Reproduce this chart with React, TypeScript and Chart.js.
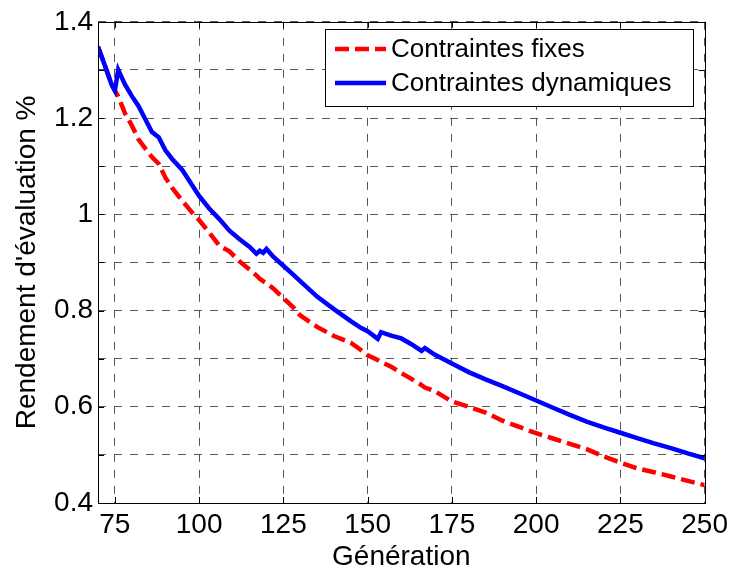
import React, { useEffect, useRef } from "react";
import { Chart, registerables } from "chart.js";

Chart.register(...registerables);

// Generation values (x axis)
const generations = [
  70, 72, 74, 75, 76, 78, 80, 82, 84, 86, 88, 90, 92, 95, 98, 100, 103, 106, 109, 112,
  115, 117, 118, 119, 120, 122, 125, 128, 130, 135, 140, 145, 148, 150, 153, 154, 157,
  160, 163, 166, 167, 170, 175, 180, 185, 190, 195, 200, 205, 210, 215, 220, 225, 230,
  235, 240, 245, 250,
];

const fixedValues = [
  1.348, 1.31, 1.27, 1.257, 1.245, 1.21, 1.185, 1.156, 1.137, 1.119, 1.105, 1.076, 1.055,
  1.028, 1.003, 0.988, 0.962, 0.935, 0.923, 0.902, 0.885, 0.873, 0.866, 0.861, 0.857,
  0.846, 0.826, 0.806, 0.79, 0.766, 0.747, 0.733, 0.718, 0.707, 0.697, 0.693, 0.683,
  0.67, 0.658, 0.645, 0.64, 0.632, 0.611, 0.6, 0.588, 0.571, 0.558, 0.545, 0.534, 0.523,
  0.512, 0.497, 0.484, 0.472, 0.464, 0.455, 0.446, 0.437,
];

const dynamicValues = [
  1.348, 1.31, 1.27, 1.257, 1.3, 1.27, 1.246, 1.225, 1.198, 1.171, 1.16, 1.133, 1.115,
  1.092, 1.06, 1.038, 1.012, 0.99, 0.966, 0.948, 0.932, 0.918, 0.924, 0.92, 0.928, 0.912,
  0.893, 0.874, 0.861, 0.829, 0.803, 0.778, 0.764, 0.757, 0.741, 0.755, 0.748, 0.742,
  0.73, 0.716, 0.722, 0.708, 0.69, 0.672, 0.657, 0.643, 0.628, 0.613, 0.598, 0.583,
  0.569, 0.557, 0.546, 0.535, 0.524, 0.514, 0.503, 0.493,
];

const xTickValues = [75, 100, 125, 150, 175, 200, 225, 250];
const yTickValues = [0.4, 0.5, 0.6, 0.7, 0.8, 0.9, 1.0, 1.1, 1.2, 1.3, 1.4];
const yTickLabels = ["0.4", "", "0.6", "", "0.8", "", "1", "", "1.2", "", "1.4"];

const seriesLabels = ["Contraintes fixes", "Contraintes dynamiques"];
const xTitle = "Génération";
const yTitle = "Rendement d'évaluation %";

const FONT = "'Liberation Sans', Arial, Helvetica, sans-serif";

const frameAndLegend = {
  id: "frameAndLegend",
  afterDraw(chart: any) {
    const { ctx, chartArea } = chart;
    const { left, right, top, bottom } = chartArea;
    const xs = chart.scales.x;
    const ys = chart.scales.y;
    ctx.save();
    ctx.strokeStyle = "#000";
    ctx.lineWidth = 1;
    ctx.setLineDash([]);
    // inner ticks
    const tl = 6;
    ctx.beginPath();
    xs.ticks.forEach((t: any) => {
      const px = Math.round(xs.getPixelForValue(t.value)) + 0.5;
      ctx.moveTo(px, bottom);
      ctx.lineTo(px, bottom - tl);
      ctx.moveTo(px, top);
      ctx.lineTo(px, top + tl);
    });
    ys.ticks.forEach((t: any) => {
      const py = Math.round(ys.getPixelForValue(t.value)) + 0.5;
      ctx.moveTo(left, py);
      ctx.lineTo(left + tl, py);
      ctx.moveTo(right, py);
      ctx.lineTo(right - tl, py);
    });
    ctx.stroke();
    // frame
    ctx.strokeRect(Math.round(left) + 0.5, Math.round(top) + 0.5, Math.round(right - left), Math.round(bottom - top));

    // legend
    const bx = 325.5, by = 29.5, bw = 368, bh = 77;
    ctx.fillStyle = "#fff";
    ctx.fillRect(bx, by, bw, bh);
    ctx.strokeRect(bx, by, bw, bh);
    const rows = [49, 83];
    chart.data.datasets.forEach((ds: any, i: number) => {
      const y = rows[i];
      ctx.save();
      ctx.strokeStyle = ds.borderColor;
      ctx.lineWidth = ds.borderWidth;
      ctx.setLineDash(ds.borderDash || []);
      ctx.beginPath();
      ctx.moveTo(335, y);
      ctx.lineTo(386, y);
      ctx.stroke();
      ctx.restore();
      ctx.fillStyle = "#000";
      ctx.font = `26px ${FONT}`;
      ctx.textAlign = "left";
      ctx.textBaseline = "middle";
      ctx.fillText(ds.label, 391, y + 1);
    });
    ctx.restore();
  },
};

export default function App() {
  const ref = useRef<HTMLCanvasElement | null>(null);
  useEffect(() => {
    if (!ref.current) return;
    const chart = new Chart(ref.current, {
      type: "line",
      data: {
        datasets: [
          {
            label: seriesLabels[0],
            data: generations.map((g, i) => ({ x: g, y: fixedValues[i] })),
            borderColor: "#ff0000",
            borderWidth: 4.5,
            borderDash: [14, 6],
            pointRadius: 0,
            tension: 0,
            fill: false,
            order: 2,
          },
          {
            label: seriesLabels[1],
            data: generations.map((g, i) => ({ x: g, y: dynamicValues[i] })),
            borderColor: "#0000ff",
            borderWidth: 4.5,
            pointRadius: 0,
            tension: 0,
            fill: false,
            order: 1,
          },
        ],
      },
      options: {
        animation: false,
        responsive: false,
        devicePixelRatio: 1,
        layout: { padding: { left: 0, top: 19, right: 28, bottom: 0 } },
        plugins: { legend: { display: false }, tooltip: { enabled: false } },
        scales: {
          x: {
            type: "linear",
            min: 70,
            max: 250,
            afterBuildTicks: (s: any) => {
              s.ticks = xTickValues.map((v) => ({ value: v }));
            },
            afterFit: (s: any) => {
              s.height = 71;
            },
            ticks: {
              autoSkip: false,
              maxRotation: 0,
              padding: 5,
              color: "#000",
              font: { family: FONT, size: 28 },
              callback: (v: any) => String(v),
            },
            grid: { color: "#555", lineWidth: 1, drawTicks: false },
            border: { display: false, dash: [8, 8] },
            title: {
              display: true,
              text: xTitle,
              color: "#000",
              font: { family: FONT, size: 28 },
              padding: { top: 0, bottom: 0 },
            },
          },
          y: {
            type: "linear",
            min: 0.4,
            max: 1.4,
            afterBuildTicks: (s: any) => {
              s.ticks = yTickValues.map((v) => ({ value: v }));
            },
            afterFit: (s: any) => {
              s.width = 98;
            },
            ticks: {
              autoSkip: false,
              padding: 5,
              color: "#000",
              font: { family: FONT, size: 28 },
              callback: (_v: any, i: number) => yTickLabels[i],
            },
            grid: { color: "#555", lineWidth: 1, drawTicks: false },
            border: { display: false, dash: [8, 8] },
            title: {
              display: true,
              text: yTitle,
              color: "#000",
              font: { family: FONT, size: 28 },
              padding: { top: 10, bottom: 0 },
            },
          },
        },
      },
      plugins: [frameAndLegend],
    } as any);
    return () => chart.destroy();
  }, []);
  return (
    <div style={{ position: "absolute", left: 0, top: 0, width: 733, height: 574, background: "#fff" }}>
      <canvas ref={ref} width={733} height={574} style={{ display: "block" }} />
    </div>
  );
}
